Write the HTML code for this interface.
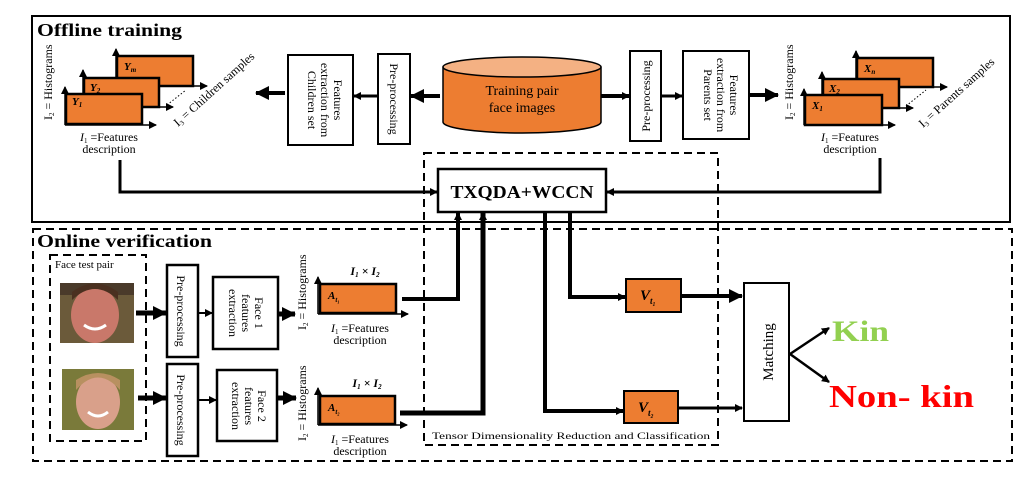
<!DOCTYPE html>
<html><head><meta charset="utf-8"><style>
html,body{margin:0;padding:0;background:#fff}
svg{display:block}
text{font-family:"Liberation Serif",serif}
</style></head><body>
<svg width="1036" height="479" viewBox="0 0 1036 479" xmlns="http://www.w3.org/2000/svg">
<defs>
<marker id="a" markerWidth="8" markerHeight="8" refX="7" refY="4" orient="auto" markerUnits="userSpaceOnUse"><path d="M0,0 L8,4 L0,8 z" fill="#000"/></marker>
<marker id="b" markerWidth="14" markerHeight="14" refX="13" refY="7" orient="auto" markerUnits="userSpaceOnUse"><path d="M0,0 L14,7 L0,14 z" fill="#000"/></marker>
</defs>
<!-- Offline box -->
<rect x="32" y="16" width="978" height="206" fill="none" stroke="#000" stroke-width="2"/>
<text x="37" y="36" font-size="18" font-weight="bold" textLength="145" lengthAdjust="spacingAndGlyphs">Offline training</text>
<!-- Online dashed box -->
<rect x="33" y="229" width="979" height="232" fill="none" stroke="#000" stroke-width="2" stroke-dasharray="8,5"/>
<text x="37" y="247" font-size="18" font-weight="bold" textLength="175" lengthAdjust="spacingAndGlyphs">Online verification</text>
<!-- Tensor dashed box -->
<rect x="424" y="153" width="294" height="292" fill="none" stroke="#000" stroke-width="2" stroke-dasharray="8,5"/>
<text x="432" y="439" font-size="9" textLength="278" lengthAdjust="spacingAndGlyphs">Tensor Dimensionality Reduction and Classification</text>

<!-- Cylinder -->
<path d="M443,67 L443,122 A79,11 0 0 0 601,122 L601,67" fill="#ed7d31" stroke="#000" stroke-width="1.5"/>
<ellipse cx="522" cy="67" rx="79" ry="10" fill="#f4b183" stroke="#000" stroke-width="1.5"/>
<text x="522" y="95" font-size="14" text-anchor="middle">Training pair</text>
<text x="522" y="112" font-size="14" text-anchor="middle">face images</text>

<!-- Left preproc/features -->
<rect x="378" y="54" width="32" height="90" fill="#fff" stroke="#000" stroke-width="2"/>
<text transform="translate(390,99) rotate(90)" font-size="12" text-anchor="middle">Pre-processing</text>
<rect x="288" y="55" width="65" height="90" fill="#fff" stroke="#000" stroke-width="2"/>
<text transform="translate(334,100) rotate(90)" font-size="12" text-anchor="middle">Features</text>
<text transform="translate(321,100) rotate(90)" font-size="12" text-anchor="middle">extraction from</text>
<text transform="translate(308,100) rotate(90)" font-size="12" text-anchor="middle">Children set</text>
<line x1="440" y1="96" x2="411" y2="96" stroke="#000" stroke-width="4" marker-end="url(#b)"/>
<line x1="378" y1="96" x2="354" y2="96" stroke="#000" stroke-width="3" marker-end="url(#a)"/>
<line x1="285" y1="93" x2="256" y2="93" stroke="#000" stroke-width="4" marker-end="url(#b)"/>

<!-- Right preproc/features -->
<rect x="630" y="51" width="31" height="90" fill="#fff" stroke="#000" stroke-width="2"/>
<text transform="translate(650,96) rotate(-90)" font-size="12" text-anchor="middle">Pre-processing</text>
<rect x="683" y="51" width="66" height="88" fill="#fff" stroke="#000" stroke-width="2"/>
<text transform="translate(730,95) rotate(90)" font-size="12" text-anchor="middle">Features</text>
<text transform="translate(717,95) rotate(90)" font-size="12" text-anchor="middle">extraction from</text>
<text transform="translate(704,95) rotate(90)" font-size="12" text-anchor="middle">Parents set</text>
<line x1="601" y1="96" x2="629" y2="96" stroke="#000" stroke-width="4" marker-end="url(#a)"/>
<line x1="661" y1="96" x2="682" y2="96" stroke="#000" stroke-width="3" marker-end="url(#a)"/>
<line x1="749" y1="95" x2="778" y2="95" stroke="#000" stroke-width="4" marker-end="url(#b)"/>

<!-- Left stack -->
<g stroke="#000" stroke-width="1.5">
<line x1="116" y1="86" x2="116" y2="49" marker-end="url(#a)"/>
<line x1="193" y1="86" x2="207" y2="86" marker-end="url(#a)"/>
<rect x="117" y="56" width="76" height="30" fill="#ed7d31" stroke-width="2.5"/>
<line x1="83" y1="107" x2="83" y2="70" marker-end="url(#a)"/>
<line x1="159" y1="107" x2="173" y2="107" marker-end="url(#a)"/>
<rect x="84" y="78" width="75" height="29" fill="#ed7d31" stroke-width="2.5"/>
<line x1="65" y1="125" x2="65" y2="87" marker-end="url(#a)"/>
<line x1="65" y1="125" x2="156" y2="125" marker-end="url(#a)"/>
<rect x="66" y="94" width="76" height="30" fill="#ed7d31" stroke-width="2.5"/>
<line x1="167" y1="105" x2="186" y2="90" stroke-dasharray="1.5,2" stroke-width="1"/>
</g>
<text x="124" y="70" font-size="11" font-weight="bold" font-style="italic">Y<tspan font-size="7" dy="2">m</tspan></text>
<text x="90" y="91" font-size="11" font-weight="bold" font-style="italic">Y<tspan font-size="7" dy="2">2</tspan></text>
<text x="72" y="105" font-size="11" font-weight="bold" font-style="italic">Y<tspan font-size="7" dy="2">1</tspan></text>
<text transform="translate(52,120) rotate(-90)" font-size="12">I<tspan font-size="7" dy="2">2</tspan><tspan dy="-2"> = Histograms</tspan></text>
<text transform="translate(178,127) rotate(-42)" font-size="12">I<tspan font-size="7" dy="2">3</tspan><tspan dy="-2"> = Children samples</tspan></text>
<text x="109" y="141" font-size="12" text-anchor="middle"><tspan font-style="italic">I</tspan><tspan font-size="7" dy="2">1</tspan><tspan dy="-2"> =Features</tspan></text>
<text x="109" y="153" font-size="12" text-anchor="middle">description</text>

<!-- Right stack -->
<g stroke="#000" stroke-width="1.5">
<line x1="856" y1="87" x2="856" y2="51" marker-end="url(#a)"/>
<line x1="933" y1="87" x2="947" y2="87" marker-end="url(#a)"/>
<rect x="857" y="58" width="76" height="29" fill="#ed7d31" stroke-width="2.5"/>
<line x1="822" y1="108" x2="822" y2="72" marker-end="url(#a)"/>
<line x1="899" y1="108" x2="913" y2="108" marker-end="url(#a)"/>
<rect x="823" y="79" width="76" height="29" fill="#ed7d31" stroke-width="2.5"/>
<line x1="804" y1="125" x2="804" y2="89" marker-end="url(#a)"/>
<line x1="804" y1="125" x2="895" y2="125" marker-end="url(#a)"/>
<rect x="805" y="95" width="77" height="30" fill="#ed7d31" stroke-width="2.5"/>
<line x1="906" y1="106" x2="926" y2="90" stroke-dasharray="1.5,2" stroke-width="1"/>
</g>
<text x="864" y="72" font-size="11" font-weight="bold" font-style="italic">X<tspan font-size="7" dy="2">n</tspan></text>
<text x="829" y="92" font-size="11" font-weight="bold" font-style="italic">X<tspan font-size="7" dy="2">2</tspan></text>
<text x="812" y="109" font-size="11" font-weight="bold" font-style="italic">X<tspan font-size="7" dy="2">1</tspan></text>
<text transform="translate(793,120) rotate(-90)" font-size="12">I<tspan font-size="7" dy="2">2</tspan><tspan dy="-2"> = Histograms</tspan></text>
<text transform="translate(923,128) rotate(-42)" font-size="12">I<tspan font-size="7" dy="2">3</tspan><tspan dy="-2"> = Parents samples</tspan></text>
<text x="850" y="141" font-size="12" text-anchor="middle"><tspan font-style="italic">I</tspan><tspan font-size="7" dy="2">1</tspan><tspan dy="-2"> =Features</tspan></text>
<text x="850" y="153" font-size="12" text-anchor="middle">description</text>

<!-- TXQDA -->
<polyline points="120,160 120,192 437,192" fill="none" stroke="#000" stroke-width="3" marker-end="url(#a)"/>
<polyline points="880,158 880,192 607,192" fill="none" stroke="#000" stroke-width="3" marker-end="url(#a)"/>
<rect x="438" y="169" width="168" height="43" fill="#fff" stroke="#000" stroke-width="2.5"/>
<text x="522" y="198" font-size="18" font-weight="bold" text-anchor="middle" textLength="143" lengthAdjust="spacingAndGlyphs">TXQDA+WCCN</text>

<!-- Face test pair -->
<rect x="50" y="255" width="96" height="186" fill="none" stroke="#000" stroke-width="2" stroke-dasharray="8,5"/>
<text x="55" y="268" font-size="11">Face test pair</text>
<rect x="60" y="283" width="74" height="60" fill="#6b5a3a"/>
<rect x="60" y="283" width="74" height="12" fill="#4a3a2a"/>
<ellipse cx="95" cy="315" rx="24" ry="28" fill="#c9786a"/>
<path d="M72,300 Q95,278 118,300 L118,292 Q95,275 72,292 z" fill="#4a3020"/>
<path d="M84,325 Q95,333 106,325" stroke="#fff" stroke-width="3" fill="none"/>
<rect x="62" y="369" width="72" height="61" fill="#7a7a3a"/>
<ellipse cx="98" cy="402" rx="22" ry="27" fill="#d9a08a"/>
<path d="M76,390 Q98,365 120,390 L120,380 Q98,366 76,380 z" fill="#b89060"/>
<path d="M88,412 Q98,420 108,412" stroke="#fff" stroke-width="3" fill="none"/>

<!-- Preproc / features online -->
<line x1="136" y1="313" x2="166" y2="313" stroke="#000" stroke-width="5" marker-end="url(#b)"/>
<line x1="138" y1="398" x2="166" y2="398" stroke="#000" stroke-width="5" marker-end="url(#b)"/>
<rect x="167" y="265" width="31" height="92" fill="#fff" stroke="#000" stroke-width="2.5"/>
<text transform="translate(177,311) rotate(90)" font-size="12" text-anchor="middle">Pre-processing</text>
<rect x="167" y="364" width="31" height="92" fill="#fff" stroke="#000" stroke-width="2.5"/>
<text transform="translate(177,410) rotate(90)" font-size="12" text-anchor="middle">Pre-processing</text>
<line x1="198" y1="313" x2="212" y2="313" stroke="#000" stroke-width="2" marker-end="url(#a)"/>
<line x1="198" y1="400" x2="216" y2="400" stroke="#000" stroke-width="2" marker-end="url(#a)"/>
<rect x="213" y="277" width="65" height="72" fill="#fff" stroke="#000" stroke-width="2.5"/>
<text transform="translate(255,313) rotate(90)" font-size="12" text-anchor="middle">Face 1</text>
<text transform="translate(242,313) rotate(90)" font-size="12" text-anchor="middle">features</text>
<text transform="translate(229,313) rotate(90)" font-size="12" text-anchor="middle">extraction</text>
<rect x="217" y="370" width="60" height="71" fill="#fff" stroke="#000" stroke-width="2.5"/>
<text transform="translate(258,406) rotate(90)" font-size="12" text-anchor="middle">Face 2</text>
<text transform="translate(245,406) rotate(90)" font-size="12" text-anchor="middle">features</text>
<text transform="translate(232,406) rotate(90)" font-size="12" text-anchor="middle">extraction</text>
<line x1="278" y1="314" x2="295" y2="314" stroke="#000" stroke-width="5" marker-end="url(#b)"/>
<line x1="277" y1="398" x2="296" y2="398" stroke="#000" stroke-width="5" marker-end="url(#b)"/>

<!-- Histograms online -->
<text transform="translate(306,330) rotate(-90)" font-size="12">I<tspan font-size="7" dy="2">2</tspan><tspan dy="-2"> = Histograms</tspan></text>
<text transform="translate(306,441) rotate(-90)" font-size="12">I<tspan font-size="7" dy="2">2</tspan><tspan dy="-2"> = Histograms</tspan></text>
<g stroke="#000" stroke-width="1.5">
<line x1="318" y1="314" x2="318" y2="277" marker-end="url(#a)"/>
<line x1="318" y1="314" x2="408" y2="314" marker-end="url(#a)"/>
<rect x="320" y="284" width="76" height="29" fill="#ed7d31" stroke-width="2.5"/>
<line x1="318" y1="425" x2="318" y2="388" marker-end="url(#a)"/>
<line x1="318" y1="425" x2="407" y2="425" marker-end="url(#a)"/>
<rect x="320" y="396" width="75" height="28" fill="#ed7d31" stroke-width="2.5"/>
</g>
<text x="328" y="299" font-size="11" font-weight="bold" font-style="italic">A<tspan font-size="7" dy="3">t₁</tspan></text>
<text x="328" y="411" font-size="11" font-weight="bold" font-style="italic">A<tspan font-size="7" dy="3">t₂</tspan></text>
<text x="365" y="275" font-size="12" font-weight="bold" font-style="italic" text-anchor="middle">I<tspan font-size="7" dy="2">1</tspan><tspan dy="-2"> × I</tspan><tspan font-size="7" dy="2">2</tspan></text>
<text x="367" y="387" font-size="12" font-weight="bold" font-style="italic" text-anchor="middle">I<tspan font-size="7" dy="2">1</tspan><tspan dy="-2"> × I</tspan><tspan font-size="7" dy="2">2</tspan></text>
<text x="360" y="332" font-size="12" text-anchor="middle"><tspan font-style="italic">I</tspan><tspan font-size="7" dy="2">1</tspan><tspan dy="-2"> =Features</tspan></text>
<text x="360" y="344" font-size="12" text-anchor="middle">description</text>
<text x="360" y="443" font-size="12" text-anchor="middle"><tspan font-style="italic">I</tspan><tspan font-size="7" dy="2">1</tspan><tspan dy="-2"> =Features</tspan></text>
<text x="360" y="455" font-size="12" text-anchor="middle">description</text>

<!-- connectors to/from TXQDA -->
<polyline points="402,299 458,299 458,213" fill="none" stroke="#000" stroke-width="4" marker-end="url(#a)"/>
<polyline points="400,413 483,413 483,213" fill="none" stroke="#000" stroke-width="5" marker-end="url(#a)"/>
<polyline points="570,212 570,297 625,297" fill="none" stroke="#000" stroke-width="4" marker-end="url(#a)"/>
<polyline points="545,212 545,411 623,411" fill="none" stroke="#000" stroke-width="4" marker-end="url(#a)"/>

<!-- V boxes -->
<rect x="626" y="279" width="55" height="33" fill="#ed7d31" stroke="#000" stroke-width="2"/>
<text x="640" y="300" font-size="15" font-weight="bold" font-style="italic">V<tspan font-size="9" dy="4">t₁</tspan></text>
<rect x="624" y="391" width="54" height="32" fill="#ed7d31" stroke="#000" stroke-width="2"/>
<text x="638" y="412" font-size="15" font-weight="bold" font-style="italic">V<tspan font-size="9" dy="4">t₂</tspan></text>
<line x1="681" y1="296" x2="742" y2="296" stroke="#000" stroke-width="4" marker-end="url(#b)"/>
<line x1="678" y1="408" x2="742" y2="408" stroke="#000" stroke-width="3" marker-end="url(#a)"/>

<!-- Matching -->
<rect x="744" y="283" width="45" height="138" fill="#fff" stroke="#000" stroke-width="2"/>
<text transform="translate(773,352) rotate(-90)" font-size="15" text-anchor="middle">Matching</text>
<line x1="790" y1="354" x2="829" y2="328" stroke="#000" stroke-width="2.5" marker-end="url(#a)"/>
<line x1="790" y1="354" x2="829" y2="382" stroke="#000" stroke-width="2.5" marker-end="url(#a)"/>
<text x="832" y="341" font-size="30" font-weight="bold" fill="#92d050" textLength="57" lengthAdjust="spacingAndGlyphs">Kin</text>
<text x="829" y="407" font-size="32" font-weight="bold" fill="#ff0000" textLength="145" lengthAdjust="spacingAndGlyphs">Non- kin</text>
</svg>
</body></html>
